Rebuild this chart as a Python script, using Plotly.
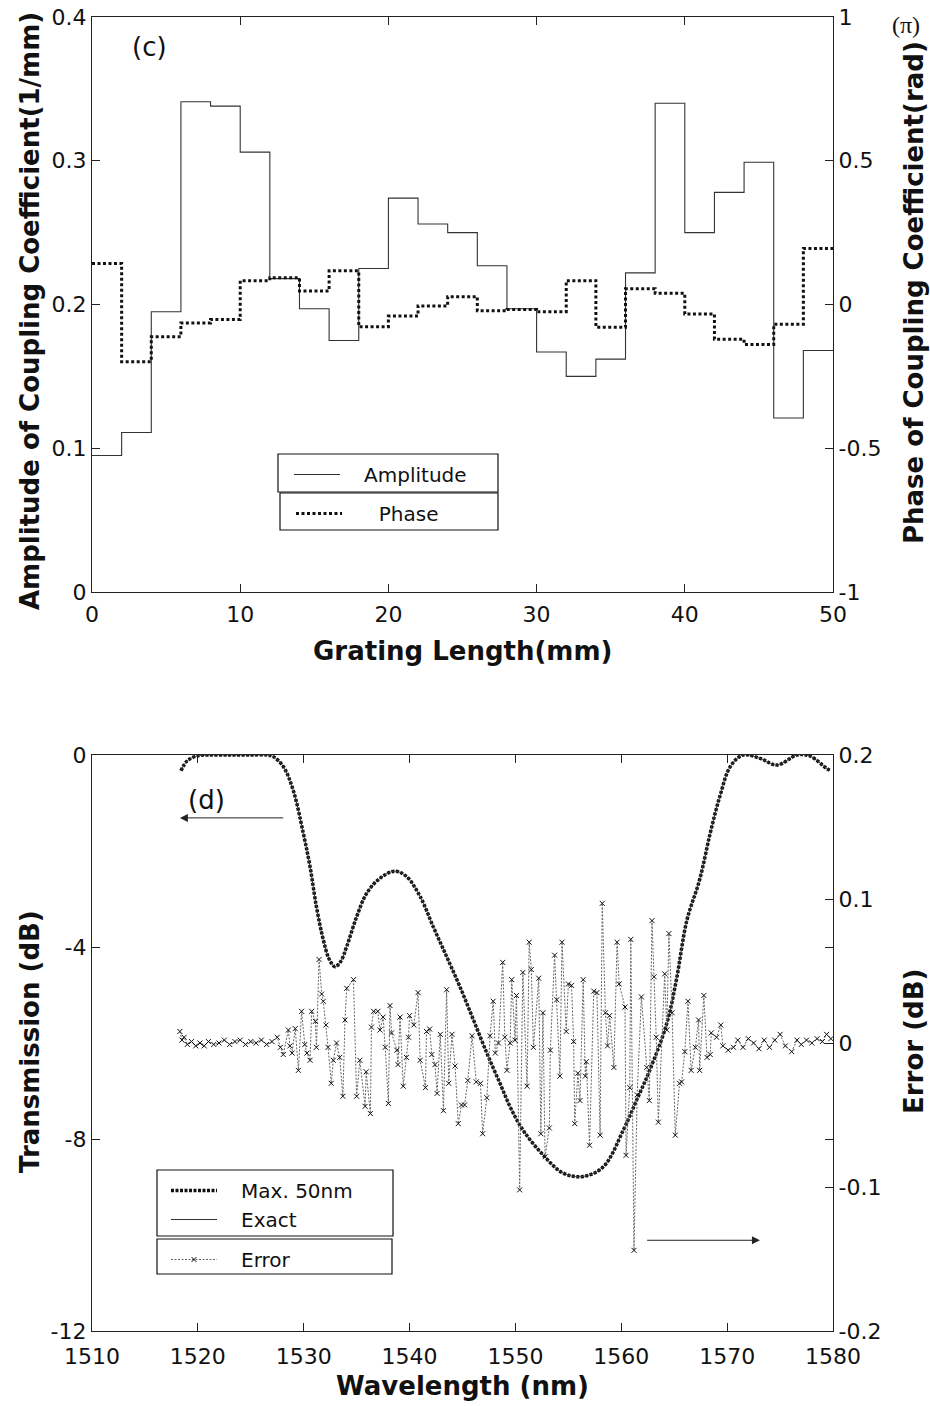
import plotly.graph_objects as go

W, H = 930, 1406

# ---------------- (c) coupling coefficient data ----------------
seg_edges = [0, 2, 4, 6, 8, 10, 12, 14, 16, 18, 20, 22, 24, 26, 28, 30,
             32, 34, 36, 38, 40, 42, 44, 46, 48, 50]
amplitude = [0.095, 0.111, 0.195, 0.341, 0.338, 0.306, 0.218, 0.197, 0.175,
             0.225, 0.274, 0.256, 0.250, 0.227, 0.197, 0.167, 0.150, 0.162,
             0.222, 0.340, 0.250, 0.278, 0.299, 0.121, 0.168]
phase_pi = [0.143, -0.199, -0.112, -0.064, -0.052, 0.083, 0.093, 0.047, 0.117,
            -0.077, -0.040, -0.005, 0.027, -0.022, -0.017, -0.025, 0.083,
            -0.079, 0.055, 0.039, -0.033, -0.121, -0.139, -0.069, 0.195]

# ---------------- (d) transmission / error data ----------------
trans_wl = [1518.4, 1519.0, 1519.9, 1521.0, 1523.0, 1525.0, 1526.5, 1527.1,
            1528.07, 1529.0, 1529.96, 1530.6, 1531.2, 1531.85, 1532.4, 1532.95,
            1533.5, 1534.06, 1535.0, 1535.95, 1537.2, 1538.6, 1539.7, 1541.0,
            1542.24, 1543.5, 1544.76, 1546.0, 1547.28, 1548.54, 1549.5, 1550.7,
            1552.6, 1554.5, 1556.4, 1558.3, 1560.2, 1561.45, 1562.7, 1564.3,
            1565.2, 1566.2, 1567.4, 1568.4, 1569.3, 1570.3, 1571.5, 1573.1,
            1574.7, 1576.6, 1577.8, 1579.4, 1579.7]
trans_db = [-0.33, -0.12, -0.02, 0.0, 0.0, 0.0, 0.0, -0.03,
            -0.24, -0.73, -1.63, -2.33, -3.16, -3.85, -4.25, -4.41,
            -4.30, -3.99, -3.37, -2.88, -2.57, -2.42, -2.53, -2.95,
            -3.58, -4.20, -4.83, -5.50, -6.20, -6.84, -7.33, -7.81,
            -8.33, -8.71, -8.78, -8.58, -7.81, -7.19, -6.56, -5.59,
            -4.69, -3.44, -2.60, -1.63, -0.87, -0.24, 0.0, -0.07,
            -0.21, 0.0, -0.02, -0.28, -0.32]

err_wl = [1518.3, 1518.5, 1518.7, 1519.0, 1519.4, 1519.8, 1520.2, 1520.6, 1521.0,
          1521.5, 1522.0, 1522.5, 1523.0, 1523.5, 1524.0, 1524.5, 1525.0, 1525.5,
          1526.0, 1526.5, 1527.0, 1527.5, 1527.8, 1528.07, 1528.55, 1528.7, 1528.9,
          1529.2, 1529.5, 1529.8, 1530.1, 1530.3, 1530.6, 1530.75, 1531.1, 1531.2,
          1531.45, 1531.7, 1531.85, 1532.1, 1532.3, 1532.6, 1532.8, 1533.1, 1533.4,
          1533.7, 1533.9, 1534.06, 1534.7, 1535.0, 1535.3, 1535.8, 1535.9, 1536.3,
          1536.4, 1536.6, 1537.0, 1537.2, 1537.5, 1537.7, 1538.0, 1538.15, 1538.3,
          1538.8, 1538.9, 1539.1, 1539.4, 1539.7, 1539.9, 1540.0, 1540.4, 1540.8,
          1541.0, 1541.5, 1541.6, 1541.9, 1542.1, 1542.4, 1542.6, 1542.9, 1543.2,
          1543.5, 1543.7, 1544.0, 1544.3, 1544.6, 1544.9, 1545.2, 1545.5, 1545.9,
          1546.3, 1546.7, 1546.9, 1547.3, 1547.6, 1547.9, 1548.1, 1548.4, 1548.8,
          1549.0, 1549.2, 1549.5, 1549.65, 1549.96, 1550.1, 1550.4, 1550.7, 1551.1,
          1551.3, 1551.5, 1551.7, 1552.2, 1552.4, 1552.6, 1552.8, 1553.2, 1553.3,
          1553.7, 1553.9, 1554.2, 1554.4, 1554.8, 1555.0, 1555.3, 1555.5, 1555.6,
          1555.9, 1556.1, 1556.4, 1556.6, 1556.7, 1557.0, 1557.4, 1557.7, 1558.0,
          1558.2, 1558.5, 1558.7, 1558.9, 1559.3, 1559.6, 1559.8, 1560.35, 1560.45,
          1560.8, 1560.9, 1561.2, 1561.5, 1561.9, 1562.4, 1562.65, 1562.9, 1563.1,
          1563.3, 1563.5, 1564.1, 1564.3, 1564.5, 1564.8, 1565.1, 1565.5, 1565.7,
          1566.0, 1566.3, 1566.6, 1567.0, 1567.3, 1567.4, 1567.8, 1568.1, 1568.4,
          1568.5, 1569.0, 1569.4, 1569.6, 1570.1, 1570.6, 1571.0, 1571.5, 1572.0,
          1572.5, 1573.0, 1573.5, 1574.0, 1574.5, 1575.0, 1575.5, 1576.1, 1576.6,
          1577.0, 1577.5, 1578.0, 1578.5, 1579.0, 1579.4, 1579.8]
err_db = [0.008, 0.002, 0.004, -0.001, 0.001, -0.002, 0.0, -0.002, 0.001,
          -0.001, 0.0, 0.002, -0.001, 0.001, 0.002, -0.001, 0.001, 0.0,
          0.002, -0.001, 0.001, 0.004, -0.003, -0.008, 0.009, -0.002, -0.007,
          0.010, -0.019, 0.022, -0.001, -0.007, -0.012, 0.022, 0.015, -0.003,
          0.058, 0.034, 0.029, 0.0125, -0.003, -0.028, -0.012, 0.0, -0.010,
          -0.037, 0.016, 0.038, 0.044, -0.037, -0.012, -0.044, -0.020, -0.049,
          0.011, 0.022, 0.022, 0.009, 0.018, -0.003, -0.042, 0.026, 0.007,
          -0.005, -0.015, 0.018, -0.030, -0.010, 0.004, 0.019, 0.0125, 0.035,
          -0.012, -0.031, 0.008, 0.0097, -0.008, -0.015, -0.035, 0.006, -0.047,
          0.037, -0.028, 0.006, -0.016, -0.056, -0.043, -0.043, -0.026, 0.005,
          -0.027, -0.028, -0.063, -0.038, 0.005, 0.029, -0.007, 0.0, 0.056,
          0.004, -0.019, 0.0, 0.044, 0.002, 0.033, -0.102, 0.049, -0.030,
          0.070, 0.051, -0.003, 0.045, -0.063, 0.021, -0.079, -0.059, -0.005,
          0.061, 0.030, -0.023, 0.070, 0.008, 0.041, 0.040, 0.001, -0.056,
          -0.021, -0.040, 0.044, -0.023, -0.013, -0.071, 0.036, 0.035, -0.064,
          0.097, 0.021, -0.002, 0.019, -0.017, 0.070, 0.041, 0.025, -0.078,
          -0.031, 0.072, -0.144, -0.036, 0.032, -0.017, -0.040, 0.085, 0.046,
          0.004, -0.055, 0.048, 0.009, 0.076, 0.021, -0.064, -0.028, -0.027,
          -0.006, 0.029, -0.019, -0.003, 0.016, -0.019, 0.033, -0.010, -0.008,
          0.007, 0.004, 0.0125, -0.002, -0.005, -0.003, 0.002, -0.003, 0.003,
          0.0, -0.004, 0.002, -0.003, 0.002, 0.006, -0.002, -0.006, 0.002,
          -0.001, 0.002, 0.0, 0.003, 0.001, 0.006, 0.003]

# ---------------- tick labels ----------------
c_x_ticks = [0, 10, 20, 30, 40, 50]
c_yl_ticks = [0, 0.1, 0.2, 0.3, 0.4]
c_yl_text = ["0", "0.1", "0.2", "0.3", "0.4"]
c_yr_ticks = [-1, -0.5, 0, 0.5, 1]
c_yr_text = ["-1", "-0.5", "0", "0.5", "1"]
d_x_ticks = [1510, 1520, 1530, 1540, 1550, 1560, 1570, 1580]
d_yl_ticks = [0, -4, -8, -12]
d_yl_text = ["0", "-4", "-8", "-12"]
d_yr_ticks = [-0.2, -0.1, 0, 0.1, 0.2]
d_yr_text = ["-0.2", "-0.1", "0", "0.1", "0.2"]

# ---------------- geometry (paper fractions) ----------------
def px(x):
    return x / W

def py(y):
    return 1 - y / H

XDOM = [px(92), px(833)]
TOP_DOM = [py(592), py(17)]
BOT_DOM = [py(1331), py(755)]

TICKFONT = dict(family="DejaVu Sans", size=22, color="#111")
TITLEFONT = dict(family="DejaVu Sans", size=26, color="#111")
LEGFONT = dict(family="DejaVu Sans", size=20, color="#111")
AXCOL = "#222"
NB = "\u00a0"

fig = go.Figure()

# step traces: repeat last value so the final segment is drawn
amp_y = amplitude + [amplitude[-1]]
ph_y = phase_pi + [phase_pi[-1]]

fig.add_trace(go.Scatter(x=seg_edges, y=amp_y, mode="lines", line_shape="hv",
                         line=dict(color="#333", width=1.1),
                         name=NB * 3 + "Amplitude", legend="legend",
                         xaxis="x", yaxis="y"))
fig.add_trace(go.Scatter(x=seg_edges, y=ph_y, mode="lines", line_shape="hv",
                         line=dict(color="#111", width=3, dash="3px,2.5px"),
                         name=NB * 5 + "Phase", legend="legend2",
                         xaxis="x", yaxis="y2"))

fig.add_trace(go.Scatter(x=trans_wl, y=trans_db, mode="lines", line_shape="spline",
                         line=dict(color="#111", width=3.5, dash="3px,1.5px"),
                         name=NB * 3 + "Max. 50nm", legend="legend3",
                         xaxis="x2", yaxis="y3"))
fig.add_trace(go.Scatter(x=trans_wl, y=trans_db, mode="lines", line_shape="spline",
                         line=dict(color="#333", width=1),
                         name=NB * 3 + "Exact", legend="legend3",
                         xaxis="x2", yaxis="y3"))
fig.add_trace(go.Scatter(x=err_wl, y=err_db, mode="lines+markers",
                         line=dict(color="#666", width=1, dash="2px,1.5px"),
                         marker=dict(symbol="x-thin", size=5,
                                     line=dict(color="#111", width=1)),
                         name=NB * 3 + "Error", legend="legend4",
                         xaxis="x2", yaxis="y4"))

common_ax = dict(showline=True, linecolor=AXCOL, linewidth=1.2, ticks="inside",
                 ticklen=8, tickwidth=1, tickcolor=AXCOL, showgrid=False,
                 zeroline=False, tickfont=TICKFONT, automargin=False)

leg_common = dict(bgcolor="rgba(0,0,0,0)", borderwidth=0, font=LEGFONT,
                  xanchor="left", yanchor="top", itemwidth=46, tracegroupgap=0)

fig.update_layout(
    width=W, height=H, margin=dict(l=0, r=0, t=0, b=0),
    paper_bgcolor="white", plot_bgcolor="white",
    xaxis=dict(domain=XDOM, range=[0, 50], tickvals=c_x_ticks, anchor="y",
               mirror="ticks", ticklabelstandoff=2, **common_ax),
    yaxis=dict(domain=TOP_DOM, range=[0, 0.4], tickvals=c_yl_ticks,
               ticktext=c_yl_text, anchor="x", mirror="ticks", **common_ax),
    yaxis2=dict(range=[-1, 1], tickvals=c_yr_ticks, ticktext=c_yr_text,
                overlaying="y", side="right", anchor="x", **common_ax),
    xaxis2=dict(domain=XDOM, range=[1510, 1580], tickvals=d_x_ticks, anchor="y3",
                mirror="ticks", ticklabelstandoff=5, **common_ax),
    yaxis3=dict(domain=BOT_DOM, range=[-12, 0], tickvals=d_yl_ticks,
                ticktext=d_yl_text, anchor="x2", mirror="ticks", **common_ax),
    yaxis4=dict(range=[-0.2, 0.2], tickvals=d_yr_ticks, ticktext=d_yr_text,
                overlaying="y3", side="right", anchor="x2", **common_ax),
    legend=dict(x=px(289), y=py(455), **leg_common),
    legend2=dict(x=px(291), y=py(494), **leg_common),
    legend3=dict(x=px(166), y=py(1171), **leg_common),
    legend4=dict(x=px(166), y=py(1240), **leg_common),
    showlegend=True,
)

# legend frames
frames = [(278, 454, 498, 492), (280, 493, 498, 530),
          (157, 1170, 393, 1236), (157, 1239, 392, 1274)]
for x0, y0, x1, y1 in frames:
    fig.add_shape(type="rect", xref="paper", yref="paper",
                  x0=px(x0), x1=px(x1), y0=py(y1), y1=py(y0),
                  line=dict(color="#111", width=1.2), fillcolor="white",
                  layer="above")

ann = []
def text(x, y, s, font, angle=0):
    ann.append(dict(x=px(x), y=py(y), xref="paper", yref="paper", text=s,
                    showarrow=False, font=font, textangle=angle,
                    xanchor="center", yanchor="middle"))

text(30, 311, "<b>Amplitude of Coupling Coefficient(1/mm)</b>", TITLEFONT, -90)
text(914, 293, "<b>Phase of Coupling Coefficient(rad)</b>", TITLEFONT, -90)
text(462, 651, "<b>Grating Length(mm)</b>", TITLEFONT)
text(30, 1042, "<b>Transmission (dB)</b>", TITLEFONT, -90)
text(914, 1042, "<b>Error (dB)</b>", TITLEFONT, -90)
text(462, 1386, "<b>Wavelength (nm)</b>", TITLEFONT)
text(149, 47, "(c)", dict(family="DejaVu Sans", size=26, color="#111"))
text(206, 800, "(d)", dict(family="DejaVu Sans", size=26, color="#111"))
text(906, 25, "(π)", dict(family="Liberation Serif", size=24, color="#111"))

# arrows pointing to the relevant axes
ann.append(dict(x=1518.3, y=-1.31, xref="x2", yref="y3", ax=1528.2, ay=-1.31,
                axref="x2", ayref="y3", showarrow=True, arrowhead=2,
                arrowsize=1.6, arrowwidth=1, arrowcolor="#222", text=""))
ann.append(dict(x=1573.1, y=-0.137, xref="x2", yref="y4", ax=1562.3, ay=-0.137,
                axref="x2", ayref="y4", showarrow=True, arrowhead=2,
                arrowsize=1.6, arrowwidth=1, arrowcolor="#222", text=""))

fig.update_layout(annotations=ann)

fig.write_html("out.html", config={"displayModeBar": False},
               post_script="document.body.style.margin='0px';")
